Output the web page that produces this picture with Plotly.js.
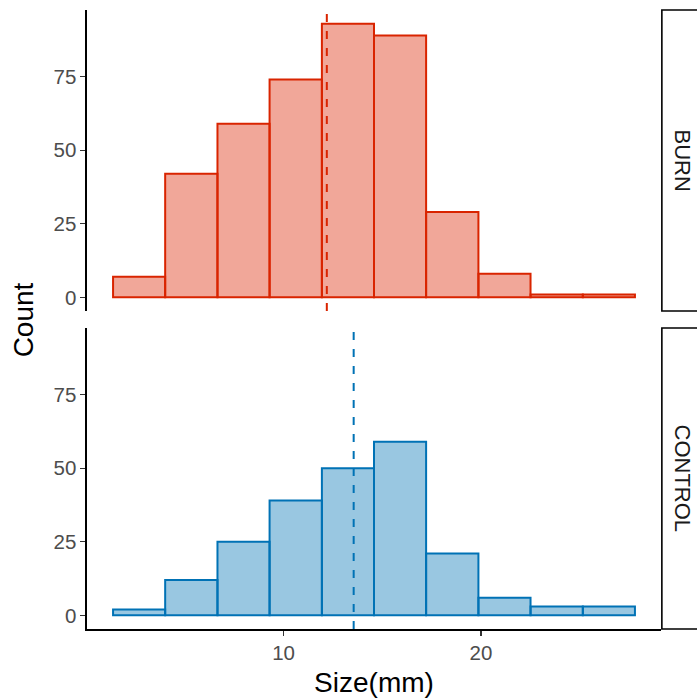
<!DOCTYPE html>
<html>
<head>
<meta charset="utf-8">
<script src="https://cdn.plot.ly/plotly-3.0.1.min.js"></script>
<style>html,body{margin:0;padding:0;background:#fff;}#chart{width:697px;height:700px;}</style>
</head>
<body>
<div id="chart"></div>
<script>
// Histogram bin edges (Size, mm)
const binEdges = [1.36, 4.00, 6.65, 9.29, 11.94, 14.58, 17.22, 19.87, 22.51, 25.16, 27.80];
// Counts per bin
const burnCounts = [7, 42, 59, 74, 93, 89, 29, 8, 1, 1];
const controlCounts = [2, 12, 25, 39, 50, 59, 21, 6, 3, 3];
// Group means (dashed lines)
const burnMean = 12.19;
const controlMean = 13.55;
// Facet labels and ticks
const groups = ["BURN", "CONTROL"];
const xTicks = [10, 20];
const yTicks = [0, 25, 50, 75];

const centers = binEdges.slice(0, -1).map((e, i) => (e + binEdges[i + 1]) / 2);
const widths = binEdges.slice(0, -1).map((e, i) => binEdges[i + 1] - e);

const redLine = '#D92400', redFill = 'rgba(220,36,0,0.4)';
const blueLine = '#0072B5', blueFill = 'rgba(0,114,181,0.4)';

const traces = [
  {type: 'bar', x: centers, y: burnCounts, width: widths, xaxis: 'x', yaxis: 'y',
   marker: {color: redFill, line: {color: redLine, width: 2}}, name: groups[0], hoverinfo: 'x+y'},
  {type: 'bar', x: centers, y: controlCounts, width: widths, xaxis: 'x', yaxis: 'y2',
   marker: {color: blueFill, line: {color: blueLine, width: 2}}, name: groups[1], hoverinfo: 'x+y'}
];

const topDom = [0.5137, 1], botDom = [0, 0.4863];
const FAM = 'Liberation Sans, Arial, sans-serif';
const tickFont = {family: FAM, size: 20.5, color: '#4d4d4d'};
const titleFont = {family: FAM, size: 28, color: '#000'};
const stripFont = {family: FAM, size: 22, color: '#1a1a1a'};
const yRange = [-4.65, 97.65];

const yaxisCommon = {
  range: yRange, tickvals: yTicks, ticktext: yTicks.map(String), showgrid: false, zeroline: false,
  showline: true, linecolor: '#000', linewidth: 1.6, ticks: 'outside', ticklen: 5, tickwidth: 1.3,
  tickcolor: '#333', tickfont: tickFont, fixedrange: true
};

const layout = {
  width: 697, height: 700,
  margin: {l: 87, r: 36, t: 10, b: 71},
  paper_bgcolor: '#fff', plot_bgcolor: '#fff',
  showlegend: false, bargap: 0,
  xaxis: {
    anchor: 'y2', range: [0.04, 29.12], tickvals: xTicks, ticktext: xTicks.map(String),
    showgrid: false, zeroline: false, showline: true, linecolor: '#000', linewidth: 1.6,
    ticks: 'outside', ticklen: 5, tickwidth: 1.3, tickcolor: '#333', tickfont: tickFont,
    title: {text: 'Size(mm)', font: titleFont, standoff: 9}
  },
  yaxis: Object.assign({}, yaxisCommon, {domain: topDom, anchor: 'x'}),
  yaxis2: Object.assign({}, yaxisCommon, {domain: botDom, anchor: 'x'}),
  shapes: [
    {type: 'line', xref: 'x', yref: 'y domain', x0: burnMean, x1: burnMean, y0: 0, y1: 1,
     line: {color: redLine, width: 2, dash: '8px,9px'}},
    {type: 'line', xref: 'x', yref: 'y2 domain', x0: controlMean, x1: controlMean, y0: 0, y1: 1,
     line: {color: blueLine, width: 2, dash: '8px,9px'}},
    {type: 'rect', xref: 'paper', yref: 'paper', x0: 1.0015, x1: 1.12, y0: topDom[0], y1: topDom[1],
     line: {color: '#000', width: 1.6}, fillcolor: '#fff'},
    {type: 'rect', xref: 'paper', yref: 'paper', x0: 1.0015, x1: 1.12, y0: botDom[0], y1: botDom[1],
     line: {color: '#000', width: 1.6}, fillcolor: '#fff'}
  ],
  annotations: [
    {xref: 'paper', yref: 'paper', x: 1.0383, y: (topDom[0] + topDom[1]) / 2, text: groups[0],
     textangle: 90, showarrow: false, xanchor: 'center', yanchor: 'middle', font: stripFont},
    {xref: 'paper', yref: 'paper', x: 1.0383, y: (botDom[0] + botDom[1]) / 2, text: groups[1],
     textangle: 90, showarrow: false, xanchor: 'center', yanchor: 'middle', font: stripFont},
    {xref: 'paper', yref: 'paper', x: -0.11, y: 0.5, xanchor: 'center', yanchor: 'middle',
     text: 'Count', textangle: -90, showarrow: false, font: titleFont}
  ]
};

Plotly.newPlot('chart', traces, layout, {staticPlot: true, displayModeBar: false});
</script>
</body>
</html>
